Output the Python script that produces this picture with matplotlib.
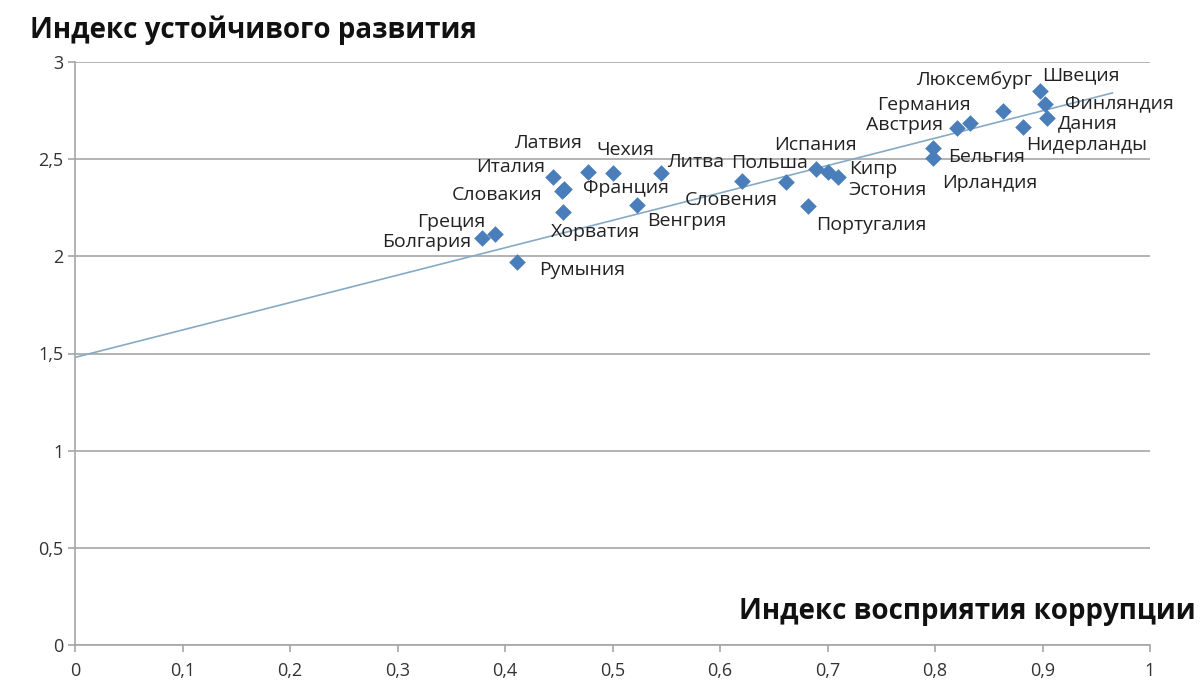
#%%############################################################################
# Scatter: corruption perception index vs sustainable development index
###############################################################################
import matplotlib.pyplot as plt
import numpy as np
from matplotlib.ticker import FuncFormatter, MultipleLocator

#%%############################################################################
# Data
###############################################################################
countries = ['Болгария', 'Греция', 'Румыния', 'Италия', 'Словакия', 'Франция',
             'Хорватия', 'Латвия', 'Чехия', 'Литва', 'Венгрия', 'Словения',
             'Польша', 'Португалия', 'Испания', 'Кипр', 'Эстония', 'Бельгия',
             'Ирландия', 'Австрия', 'Германия', 'Люксембург', 'Нидерланды',
             'Швеция', 'Финляндия', 'Дания']
corruption = [0.379, 0.391, 0.411, 0.445, 0.453, 0.455,
              0.454, 0.477, 0.500, 0.545, 0.523, 0.620,
              0.661, 0.682, 0.689, 0.700, 0.710, 0.798,
              0.798, 0.820, 0.833, 0.863, 0.882,
              0.898, 0.902, 0.904]
sustain = [2.095, 2.115, 1.971, 2.409, 2.337, 2.347,
           2.228, 2.434, 2.429, 2.429, 2.265, 2.388,
           2.383, 2.259, 2.450, 2.434, 2.409, 2.558,
           2.506, 2.661, 2.687, 2.748, 2.666,
           2.851, 2.784, 2.712]
# label offsets from the point, pixels (x right, y up)
label_dx = [-56, -44, 65, -43, -65, 62, 33, -40, 13, 35, 50, -10,
            -16, 63, 0, 46, 49, 54, 57, -52, -47, -29, 63, 41, 75, 41]
label_dy = [-4, 12, -8, 10, -4, 1, -20, 29, 23, 11, -16, -19,
            19, -19, 24, 3, -13, -9, -25, 3, 18, 31, -18, 16, 1, -5]

# trend line as drawn in the reference (intercept, slope, x range)
trend_b = 1.48
trend_k = 1.41
trend_x = [0, 0.965]

#%%############################################################################
# Plot
###############################################################################
plt.rcParams['font.family'] = ['Open Sans', 'DejaVu Sans']

fig = plt.figure(figsize=(12.04, 6.84), dpi=100)
ax = fig.add_axes([75/1204, 1 - 645/684, 1075/1204, 583/684])

x = np.array(corruption)
y = np.array(sustain)

xt = np.array(trend_x)
ax.plot(xt, trend_k*xt + trend_b, color='#86aac4', lw=1.2, zorder=2)

ax.scatter(x, y, marker='D', s=72, color='#4a7ebb', zorder=3, linewidths=0)

for name, xi, yi, dx, dy in zip(countries, x, y, label_dx, label_dy):
    ax.annotate(name, (xi, yi), xytext=(dx, dy), textcoords='offset pixels',
                ha='center', va='center', fontsize=14, color='#222222',
                zorder=4)

ax.set_xlim(0, 1)
ax.set_ylim(0, 3)
ax.xaxis.set_major_locator(MultipleLocator(0.1))
ax.yaxis.set_major_locator(MultipleLocator(0.5))
fmt = FuncFormatter(lambda v, p: ('%g' % round(v, 2)).replace('.', ','))
ax.xaxis.set_major_formatter(fmt)
ax.yaxis.set_major_formatter(fmt)
ax.grid(axis='y', color='#a6a6a6', lw=1.2)
ax.set_axisbelow(True)
for s in ['top', 'right']:
    ax.spines[s].set_visible(False)
for s in ['left', 'bottom']:
    ax.spines[s].set_color('#a6a6a6')
    ax.spines[s].set_linewidth(1.2)
ax.tick_params(colors='#a6a6a6', labelcolor='#333333', labelsize=13,
               length=5, width=1.2)
ax.tick_params(axis='x', pad=7)

fig.text(30/1204, 1 - 30/684, 'Индекс устойчивого развития', fontsize=20,
         fontweight='bold', ha='left', va='center', color='#111111')
fig.text(1196/1204, 1 - 612/684, 'Индекс восприятия коррупции', fontsize=20,
         fontweight='bold', ha='right', va='center', color='#111111')

fig.savefig('out.png', dpi=100)
